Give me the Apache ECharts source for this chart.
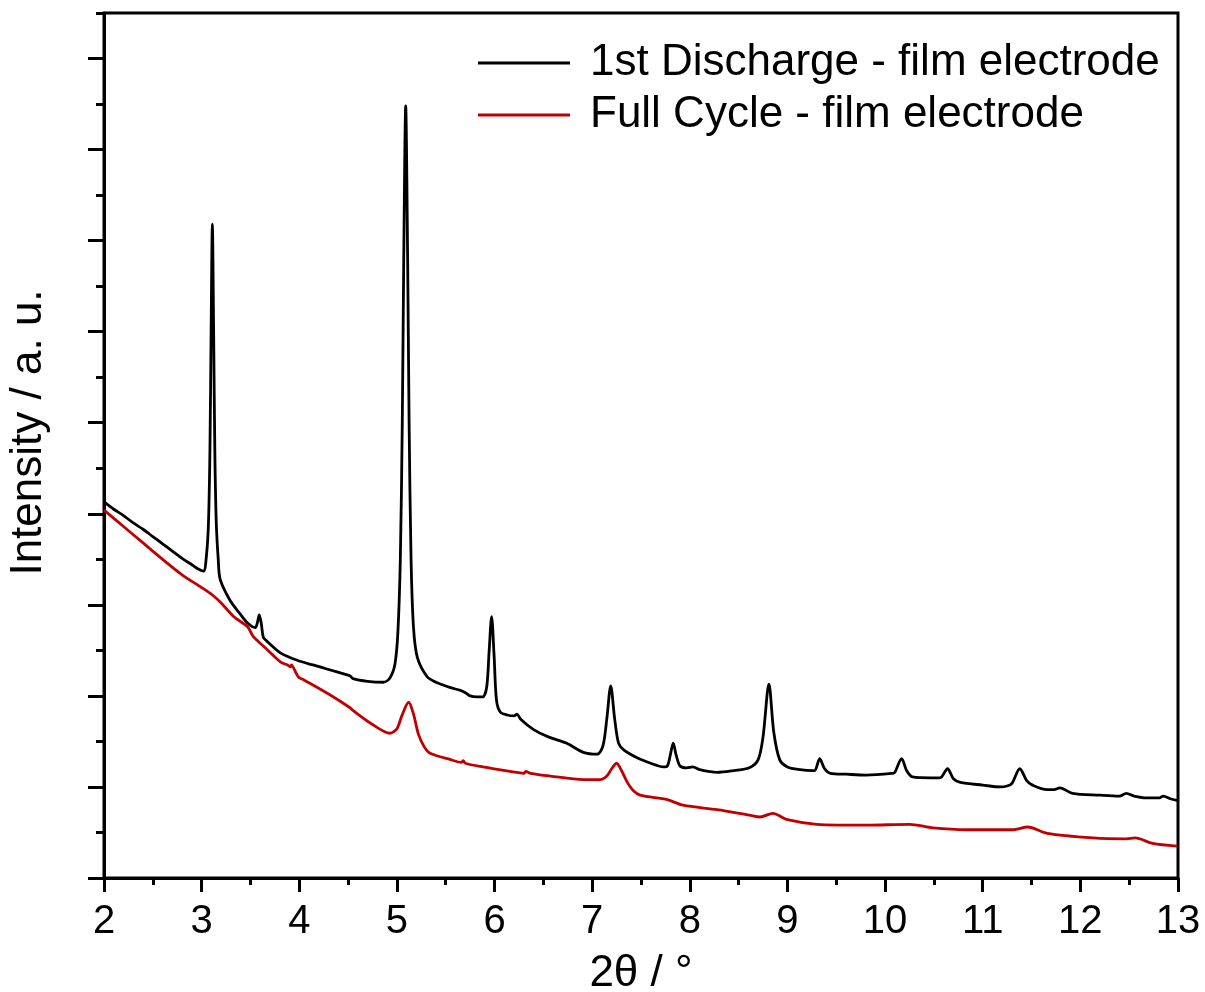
<!DOCTYPE html>
<html>
<head>
<meta charset="utf-8">
<script src="https://cdn.jsdelivr.net/npm/echarts@6/dist/echarts.min.js"></script>
<style>html,body{margin:0;padding:0;background:#fff}#c{width:1205px;height:992px}</style>
</head>
<body>
<div id="c"></div>
<script>
// 1st Discharge - film electrode
var dischargeX = [2.0,2.1,2.2,2.3,2.4,2.5,2.6,2.7,2.8,2.9,2.97,3.02,3.05,3.07,3.085,3.097,3.11,3.123,3.135,3.15,3.17,3.19,
  3.29,3.38,3.47,3.55,3.57,3.59,3.61,3.63,3.65,3.81,4.01,4.14,4.3,4.49,4.52,4.55,4.7,4.86,4.93,4.98,5.01,5.035,5.055,5.07,5.09,
  5.11,5.125,5.145,5.17,5.21,5.31,5.4,5.55,5.65,5.71,5.75,5.82,5.88,5.92,5.945,5.97,5.995,6.02,6.06,6.13,6.2,6.23,6.27,6.4,6.55,
  6.74,6.91,7.05,7.11,7.15,7.19,7.23,7.27,7.32,7.46,7.6,7.73,7.77,7.8,7.83,7.86,7.9,7.97,8.03,8.1,8.28,8.45,8.61,8.7,8.75,8.81,8.86,
  8.92,9.0,9.13,9.26,9.28,9.33,9.38,9.44,9.6,9.81,10.08,10.1,10.17,10.22,10.28,10.47,10.56,10.58,10.64,10.7,10.77,11.0,11.18,
  11.25,11.3,11.38,11.45,11.51,11.66,11.73,11.79,11.92,12.2,12.4,12.47,12.55,12.68,12.81,12.85,12.92,13.0];
var dischargeY = [4.13,4.05,3.98,3.9,3.83,3.75,3.67,3.59,3.51,3.44,3.39,3.37,3.55,3.9,4.7,6.0,7.18,6.0,4.7,3.9,3.5,3.28,
  3.05,2.92,2.8,2.75,2.8,2.89,2.8,2.65,2.62,2.47,2.38,2.34,2.29,2.23,2.22,2.19,2.16,2.15,2.2,2.35,2.7,3.5,5.0,6.8,8.48,
  6.8,5.0,3.5,2.75,2.42,2.21,2.15,2.09,2.06,2.03,2.0,1.99,1.99,2.1,2.5,2.87,2.45,1.95,1.82,1.79,1.78,1.8,1.74,1.63,1.55,
  1.48,1.38,1.36,1.45,1.75,2.11,1.75,1.48,1.41,1.32,1.26,1.22,1.23,1.35,1.48,1.35,1.23,1.21,1.22,1.19,1.16,1.18,1.21,1.3,1.55,2.13,1.6,
  1.3,1.22,1.19,1.18,1.18,1.31,1.2,1.15,1.14,1.13,1.15,1.16,1.31,1.18,1.11,1.1,1.1,1.11,1.2,1.09,1.05,1.02,1.0,
  1.01,1.04,1.2,1.07,1.02,0.97,0.97,0.99,0.93,0.91,0.9,0.93,0.9,0.88,0.88,0.9,0.87,0.85];
// Full Cycle - film electrode
var cycleX = [2.0,2.2,2.4,2.6,2.8,3.0,3.12,3.2,3.33,3.47,3.53,3.67,3.81,3.88,3.91,3.92,3.94,3.99,4.04,4.3,4.52,4.55,4.73,4.93,5.0,5.05,5.12,
  5.17,5.22,5.28,5.34,5.55,5.66,5.68,5.7,5.88,6.23,6.3,6.32,6.37,6.57,6.91,7.08,7.15,7.2,7.25,7.3,7.36,7.42,7.49,7.77,7.93,8.28,
  8.61,8.72,8.85,9.0,9.3,9.81,10.25,10.49,10.84,11.31,11.46,11.66,12.13,12.47,12.56,12.74,12.99];
var cycleY = [4.04,3.86,3.68,3.5,3.33,3.19,3.1,3.02,2.87,2.76,2.65,2.51,2.37,2.34,2.32,2.34,2.31,2.21,2.18,2.02,1.87,1.84,1.7,1.59,1.64,1.78,1.93,
  1.8,1.58,1.44,1.37,1.3,1.27,1.29,1.26,1.22,1.16,1.15,1.17,1.15,1.12,1.08,1.08,1.12,1.2,1.26,1.18,1.05,0.96,0.91,0.86,0.8,0.75,
  0.69,0.67,0.71,0.64,0.59,0.58,0.59,0.55,0.53,0.53,0.56,0.49,0.44,0.43,0.44,0.38,0.35];
var xTicks = [2,3,4,5,6,7,8,9,10,11,12,13];
var yMajor = [0,1,2,3,4,5,6,7,8,9];
var yMinor = [0.5,1.5,2.5,3.5,4.5,5.5,6.5,7.5,8.5,9.5];

function pairs(xs, ys){ return xs.map(function(x,i){ return [x, ys[i]]; }); }

var FONT = 'Liberation Sans, Arial, sans-serif';
var chart = echarts.init(document.getElementById('c'), null, {renderer:'canvas'});
chart.setOption({
  animation:false,
  backgroundColor:'#fff',
  grid:{left:104, right:27, top:13, bottom:114, show:true, borderColor:'#000', borderWidth:3, backgroundColor:'transparent',
        containLabel:false, outerBoundsMode:'none'},
  legend:{
    orient:'vertical', left:478, top:40, padding:0, itemWidth:92, itemHeight:3, itemGap:6, icon:'rect',
    textStyle:{fontFamily:FONT, fontSize:44, color:'#000', lineHeight:46, padding:[0,0,0,15]},
    data:['1st Discharge - film electrode','Full Cycle - film electrode']
  },
  xAxis:{
    type:'value', min:2, max:13, interval:1,
    name:'2\u03B8 / \u00B0', nameLocation:'middle', nameGap:74,
    nameTextStyle:{fontFamily:FONT, fontSize:44, color:'#000'},
    axisLine:{lineStyle:{color:'#000', width:3}},
    axisTick:{show:true, inside:false, length:14, lineStyle:{color:'#000', width:3}},
    minorTick:{show:true, splitNumber:2, length:7, lineStyle:{color:'#000', width:3}},
    axisLabel:{fontFamily:FONT, fontSize:40, color:'#000', margin:24, customValues:xTicks},
    splitLine:{show:false}, minorSplitLine:{show:false}
  },
  yAxis:[{
    type:'value', min:0, max:9.5,
    name:'Intensity / a. u.', nameLocation:'middle', nameGap:53,
    nameTextStyle:{fontFamily:FONT, fontSize:44, color:'#000', padding:[0,0,0,26]},
    axisLine:{show:true, lineStyle:{color:'#000', width:3}},
    axisTick:{show:true, inside:false, length:16, customValues:yMajor, lineStyle:{color:'#000', width:3}},
    axisLabel:{show:false},
    splitLine:{show:false}
  },{
    type:'value', min:0, max:9.5, position:'left',
    axisLine:{show:false},
    axisTick:{show:true, inside:false, length:8, customValues:yMinor, lineStyle:{color:'#000', width:3}},
    axisLabel:{show:false},
    splitLine:{show:false}
  }],
  series:[{
    name:'1st Discharge - film electrode', type:'line', symbol:'none', smooth:0.3,
    data:pairs(dischargeX, dischargeY),
    lineStyle:{color:'#000', width:2.8}, itemStyle:{color:'#000'}
  },{
    name:'Full Cycle - film electrode', type:'line', symbol:'none', smooth:0.3,
    data:pairs(cycleX, cycleY),
    lineStyle:{color:'#c00000', width:2.8}, itemStyle:{color:'#c00000'}
  }]
});
</script>
</body>
</html>
